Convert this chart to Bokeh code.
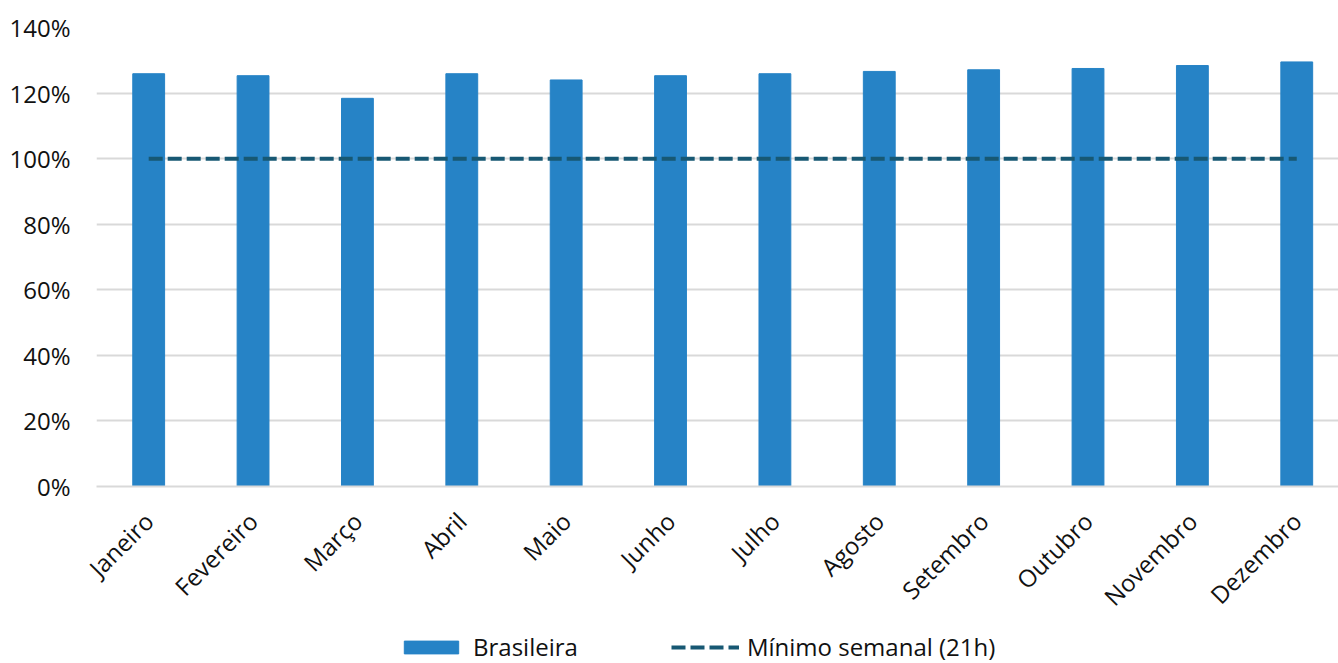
import numpy as np
from bokeh.plotting import figure
from bokeh.layouts import column
from bokeh.models import ColumnDataSource, FixedTicker, Legend, LegendItem, Range1d, NumeralTickFormatter
from bokeh.embed import file_html
from bokeh.resources import INLINE

months = ["Janeiro", "Fevereiro", "Março", "Abril", "Maio", "Junho", "Julho",
          "Agosto", "Setembro", "Outubro", "Novembro", "Dezembro"]
brasileira = [125.9, 125.3, 118.4, 125.9, 124.0, 125.3, 125.9, 126.6, 127.1, 127.5, 128.4, 129.5]
minimo = [100] * 12
y_ticks = [0, 20, 40, 60, 80, 100, 120, 140]

FONT = "Open Sans"
FS = "24px"
TXT = "#111111"
BAR = "#2683c6"
DASH = "#175873"
x = list(range(len(months)))
src = ColumnDataSource(dict(x=x, top=brasileira, minimo=minimo))

p = figure(width=1338, height=627, output_backend="svg", toolbar_location=None,
           x_range=Range1d(-0.5, 11.4), y_range=Range1d(0, 140),
           min_border_left=96, min_border_right=0, min_border_top=27,
           min_border_bottom=137, outline_line_color=None)

bars = p.vbar(x="x", top="top", width=0.305, source=src, fill_color=BAR,
              line_color=BAR, line_width=1)
ln = p.line(x="x", y="minimo", source=src, line_color=DASH, line_width=4,
            line_dash="14 5")

p.xaxis.ticker = FixedTicker(ticks=x)
p.xaxis.major_label_overrides = {i: m for i, m in enumerate(months)}
p.xaxis.major_label_orientation = np.pi / 4
p.xaxis.major_tick_line_color = None
p.xaxis.major_tick_out = 0
p.xaxis.minor_tick_line_color = None
p.xaxis.minor_tick_out = 0
p.xaxis.axis_line_color = "#d9d9d9"
p.xaxis.axis_line_width = 2
p.xaxis.major_label_text_font = FONT
p.xaxis.major_label_text_font_size = FS
p.xaxis.major_label_text_color = TXT
p.xaxis.major_label_standoff = 30

p.yaxis.ticker = FixedTicker(ticks=y_ticks)
p.yaxis.formatter = NumeralTickFormatter(format="0")
p.yaxis.major_label_overrides = {t: f"{t}%" for t in y_ticks}
p.yaxis.major_tick_line_color = None
p.yaxis.major_tick_out = 0
p.yaxis.minor_tick_line_color = None
p.yaxis.minor_tick_out = 0
p.yaxis.axis_line_color = None
p.yaxis.major_label_text_font = FONT
p.yaxis.major_label_text_font_size = FS
p.yaxis.major_label_text_color = TXT
p.yaxis.major_label_standoff = 26

p.xgrid.grid_line_color = None
p.ygrid.grid_line_color = "#d9d9d9"
p.ygrid.grid_line_width = 2

# Legend strip (separate figure so the legend sits below the rotated labels)
q = figure(width=1338, height=36, output_backend="svg", toolbar_location=None,
           x_range=Range1d(0, 1), y_range=Range1d(1000, 1001),
           x_axis_type=None, y_axis_type=None, min_border=0, outline_line_color=None)
q.xgrid.grid_line_color = None
q.ygrid.grid_line_color = None
lbars = q.vbar(x="x", top="top", width=0.305, source=src, fill_color=BAR, line_color=BAR)
lline = q.line(x="x", y="minimo", source=src, line_color=DASH, line_width=4, line_dash="14 5")

legend = Legend(items=[LegendItem(label="Brasileira", renderers=[lbars]),
                       LegendItem(label="Mínimo semanal (21h)", renderers=[lline])],
                orientation="horizontal", location=(301, 0),
                label_text_font=FONT, label_text_font_size=FS, label_text_color=TXT,
                glyph_width=68, glyph_height=16, label_standoff=8, spacing=93,
                border_line_color=None, background_fill_alpha=0, padding=0, margin=0)
q.add_layout(legend, "center")

layout = column(p, q, spacing=0)
open("out.html", "w").write(file_html(layout, INLINE))
